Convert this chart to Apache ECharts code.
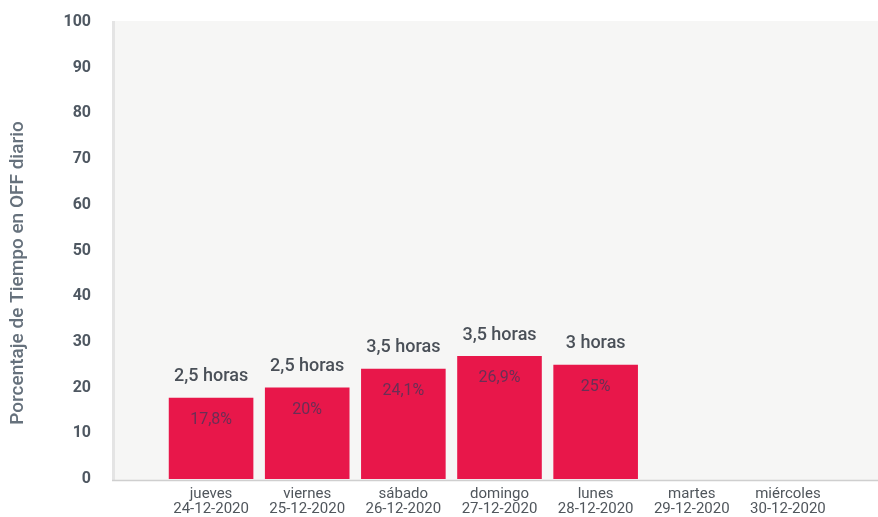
<!DOCTYPE html>
<html>
<head>
<meta charset="utf-8">
<script src="https://cdn.jsdelivr.net/npm/echarts@6/dist/echarts.min.js"></script>
<style>
html,body{margin:0;padding:0;background:#fff;}
#chart{width:878px;height:517px;}
</style>
</head>
<body>
<div id="chart"></div>
<script>
// Daily OFF time, one week
const days = ['jueves', 'viernes', 'sábado', 'domingo', 'lunes', 'martes', 'miércoles'];
const dates = ['24-12-2020', '25-12-2020', '26-12-2020', '27-12-2020', '28-12-2020', '29-12-2020', '30-12-2020'];
const offPercent = [17.8, 20, 24.1, 26.9, 25, null, null];
const offHours = ['2,5 horas', '2,5 horas', '3,5 horas', '3,5 horas', '3 horas', '', ''];
const yTicks = [0, 10, 20, 30, 40, 50, 60, 70, 80, 90, 100];
const yTitle = 'Porcentaje de Tiempo en OFF diario';

const categories = days.map((d, i) => d + '\n' + dates[i]);
const fontFamily = 'Roboto, "Noto Sans", sans-serif';

const chart = echarts.init(document.getElementById('chart'));
chart.setOption({
  animation: false,
  backgroundColor: '#ffffff',
  graphic: [
    {
      type: 'rect', z: -10, silent: true,
      shape: { x: 112, y: 21, width: 766, height: 459 },
      style: { fill: '#f6f6f5' }
    },
    {
      type: 'rect', z: -9, silent: true,
      shape: { x: 112, y: 21, width: 3, height: 459 },
      style: { fill: '#e4e4e4' }
    },
    {
      type: 'line', z: 5, silent: true,
      shape: { x1: 112, y1: 480.5, x2: 878, y2: 480.5 },
      style: { stroke: '#cfcfcf', lineWidth: 1.5 }
    },
    {
      type: 'text', silent: true,
      x: 18, y: 273, rotation: Math.PI / 2,
      style: {
        text: yTitle,
        fill: '#66717c',
        font: '500 19px ' + fontFamily,
        align: 'center',
        verticalAlign: 'middle'
      }
    }
  ],
  grid: { left: 163, right: 42, top: 22, bottom: 38, outerBoundsMode: 'none', containLabel: false },
  xAxis: {
    type: 'category',
    data: categories,
    axisLine: { show: false },
    axisTick: { show: false },
    axisLabel: {
      interval: 0,
      margin: 8,
      color: '#50565c',
      fontFamily: fontFamily,
      fontSize: 15,
      lineHeight: 15
    }
  },
  yAxis: {
    type: 'value',
    min: yTicks[0],
    max: yTicks[yTicks.length - 1],
    interval: yTicks[1] - yTicks[0],
    splitLine: { show: false },
    axisLine: { show: false },
    axisTick: { show: false },
    axisLabel: {
      margin: 72,
      color: '#4f5862',
      fontFamily: fontFamily,
      fontSize: 16,
      fontWeight: 'bold'
    }
  },
  series: [
    {
      type: 'bar',
      data: offPercent,
      barCategoryGap: '12%',
      itemStyle: { color: '#e8174a' },
      label: {
        show: true,
        position: 'insideTop',
        distance: 14,
        color: '#6a2f55',
        fontFamily: fontFamily,
        fontSize: 16,
        formatter: p => p.value == null ? '' : String(p.value).replace('.', ',') + '%'
      }
    },
    {
      type: 'bar',
      data: offPercent,
      barGap: '-100%',
      barCategoryGap: '12%',
      itemStyle: { color: 'rgba(0,0,0,0)' },
      label: {
        show: true,
        position: 'top',
        distance: 12,
        color: '#4a5058',
        fontFamily: fontFamily,
        fontSize: 18,
        fontWeight: 500,
        formatter: p => offHours[p.dataIndex]
      }
    }
  ]
});
</script>
</body>
</html>
